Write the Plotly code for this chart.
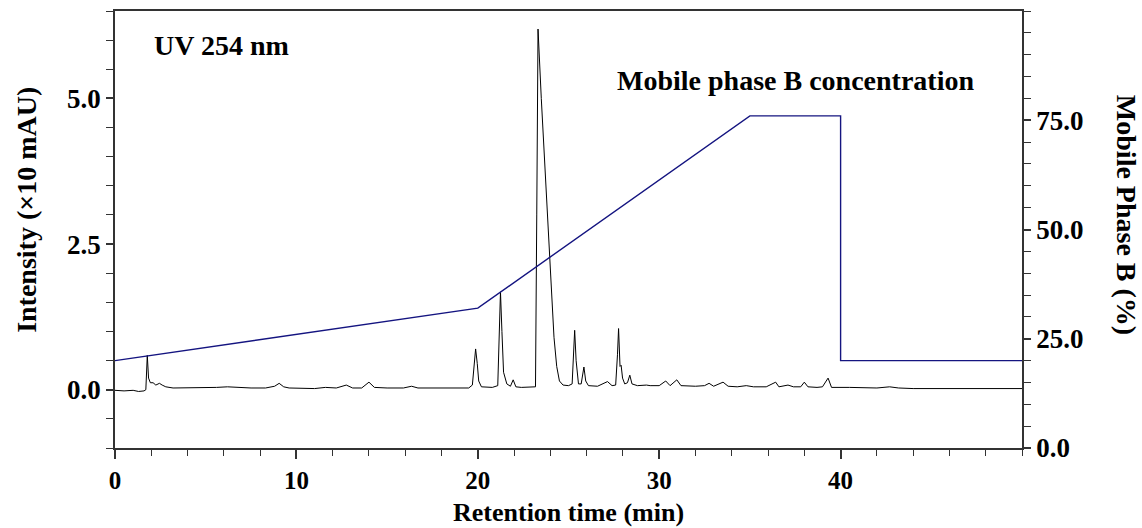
import plotly.graph_objects as go

# Chromatogram (UV 254 nm), intensity in x10 mAU
rt_min = [0.0, 0.5, 1.0, 1.3, 1.6, 1.7, 1.78, 1.85, 1.95, 2.1, 2.25, 2.45, 2.6, 2.8, 3.2, 4.0, 4.5,
          5.0, 5.6, 6.2, 6.8, 7.5, 8.3, 8.8, 9.05, 9.3, 9.6, 10.5, 11.0, 11.6, 12.2, 12.75, 13.1,
          13.6, 14.0, 14.3, 15.0, 15.9, 16.35, 16.7, 17.5, 18.5, 19.5, 19.7, 19.8, 19.88, 19.97,
          20.05, 20.2, 20.8, 21.1, 21.17, 21.25, 21.33, 21.42, 21.6, 21.8, 21.95, 22.1, 22.4, 23.0,
          23.18, 23.25, 23.32, 23.5, 23.7, 23.9, 24.05, 24.2, 24.35, 24.5, 24.7, 25.0, 25.2, 25.27,
          25.34, 25.42, 25.55, 25.7, 25.8, 25.85, 25.95, 26.1, 26.6, 27.15, 27.4, 27.6, 27.7, 27.76,
          27.84, 27.9, 27.98, 28.1, 28.25, 28.38, 28.5, 28.8, 29.3, 29.5, 30.0, 30.36, 30.6, 30.97,
          31.2, 32.0, 32.5, 32.75, 33.0, 33.52, 33.8, 34.3, 34.8, 35.2, 35.9, 36.42, 36.6, 37.1,
          37.4, 37.8, 38.0, 38.2, 38.7, 39.0, 39.31, 39.5, 40.5, 41.5, 42.0, 42.7, 43.2, 44.0,
          46.0, 48.0, 50.0]
intensity = [-0.01, -0.02, -0.01, -0.03, -0.02, 0.0, 0.59, 0.2, 0.12, 0.12, 0.08, 0.11, 0.08, 0.05,
             0.03, 0.03, 0.04, 0.03, 0.04, 0.05, 0.04, 0.03, 0.03, 0.06, 0.11, 0.05, 0.03, 0.03,
             0.02, 0.04, 0.03, 0.08, 0.03, 0.03, 0.13, 0.04, 0.03, 0.03, 0.06, 0.03, 0.03, 0.03,
             0.03, 0.08, 0.4, 0.70, 0.45, 0.15, 0.05, 0.04, 0.07, 0.8, 1.68, 1.0, 0.3, 0.1, 0.06,
             0.17, 0.05, 0.04, 0.04, 0.05, 3.0, 6.19, 5.0, 3.8, 2.6, 1.7, 0.9, 0.4, 0.15, 0.08,
             0.07, 0.1, 0.6, 1.02, 0.5, 0.1, 0.1, 0.35, 0.39, 0.15, 0.07, 0.06, 0.14, 0.07, 0.08,
             0.6, 1.05, 0.4, 0.42, 0.2, 0.1, 0.12, 0.25, 0.1, 0.07, 0.08, 0.07, 0.07, 0.15, 0.07,
             0.17, 0.07, 0.06, 0.07, 0.11, 0.06, 0.13, 0.06, 0.05, 0.07, 0.05, 0.05, 0.13, 0.05,
             0.08, 0.05, 0.05, 0.13, 0.05, 0.04, 0.05, 0.2, 0.04, 0.04, 0.03, 0.03, 0.05, 0.03,
             0.02, 0.02, 0.02, 0.02]

# Mobile phase B gradient program
grad_time = [0, 20, 35, 40, 40, 50]
grad_b = [20, 32, 76, 76, 20, 20]

x_ticks = [0, 10, 20, 30, 40]
y_ticks = [0.0, 2.5, 5.0]
y2_ticks = [0.0, 25.0, 50.0, 75.0]

FONT = "Liberation Serif"
AX = "#333333"
TICK_SIZE = 27
TITLE_SIZE = 28

fig = go.Figure()
fig.add_trace(go.Scatter(x=rt_min, y=intensity, mode="lines",
                         line=dict(color="black", width=1), yaxis="y", showlegend=False))
fig.add_trace(go.Scatter(x=grad_time, y=grad_b, mode="lines",
                         line=dict(color="#141480", width=1.4), yaxis="y2", showlegend=False))

fig.update_layout(
    width=1142, height=528,
    margin=dict(l=115, r=120, t=11, b=80),
    plot_bgcolor="white", paper_bgcolor="white",
    font=dict(family=FONT, color="black"),
    xaxis=dict(range=[0, 50], tickvals=x_ticks, ticks="outside", ticklen=9, tickwidth=1.5,
               tickcolor=AX, showline=True, linecolor=AX, linewidth=1.5, mirror=True,
               showgrid=False, zeroline=False, automargin=False,
               tickfont=dict(size=25, family=FONT, weight="bold"),
               minor=dict(dtick=2, ticks="outside", ticklen=6, tickwidth=1.2, tickcolor=AX)),
    yaxis=dict(range=[-1, 6.5], tickvals=y_ticks, tickformat=".1f", ticks="outside", ticklen=7,
               tickwidth=1.5, tickcolor=AX, showline=True, linecolor=AX, linewidth=1.5,
               showgrid=False, zeroline=False, automargin=False,
               tickfont=dict(size=TICK_SIZE, family=FONT, weight="bold"),
               minor=dict(dtick=0.5, ticks="outside", ticklen=7, tickwidth=1.2, tickcolor=AX)),
    yaxis2=dict(range=[0, 100], tickvals=y2_ticks, tickformat=".1f", overlaying="y", side="right",
                ticks="outside", ticklen=7, tickwidth=1.5, tickcolor=AX, showline=True,
                linecolor=AX, linewidth=1.5, showgrid=False, zeroline=False, automargin=False,
                tickfont=dict(size=TICK_SIZE, family=FONT, weight="bold"),
                minor=dict(dtick=5, ticks="outside", ticklen=7, tickwidth=1.2, tickcolor=AX)),
    annotations=[
        dict(text="<b>UV 254 nm</b>", xref="paper", yref="paper", x=0.041, y=0.921,
             xanchor="left", yanchor="middle", showarrow=False, font=dict(size=28, family=FONT)),
        dict(text="<b>Mobile phase B concentration</b>", xref="paper", yref="paper", x=0.551,
             y=0.842, xanchor="left", yanchor="middle", showarrow=False,
             font=dict(size=28, family=FONT)),
        dict(text="<b>Intensity (×10 mAU)</b>", xref="paper", yref="paper", x=-0.097, y=0.545,
             xanchor="center", yanchor="middle", textangle=-90, showarrow=False,
             font=dict(size=TITLE_SIZE, family=FONT)),
        dict(text="<b>Retention time (min)</b>", xref="paper", yref="paper", x=0.5, y=-0.147,
             xanchor="center", yanchor="middle", showarrow=False,
             font=dict(size=26, family=FONT)),
        dict(text="<b>Mobile Phase B (%)</b>", xref="paper", yref="paper", x=1.116, y=0.533,
             xanchor="center", yanchor="middle", textangle=90, showarrow=False,
             font=dict(size=TITLE_SIZE, family=FONT)),
    ],
)

fig.write_html("out.html")
